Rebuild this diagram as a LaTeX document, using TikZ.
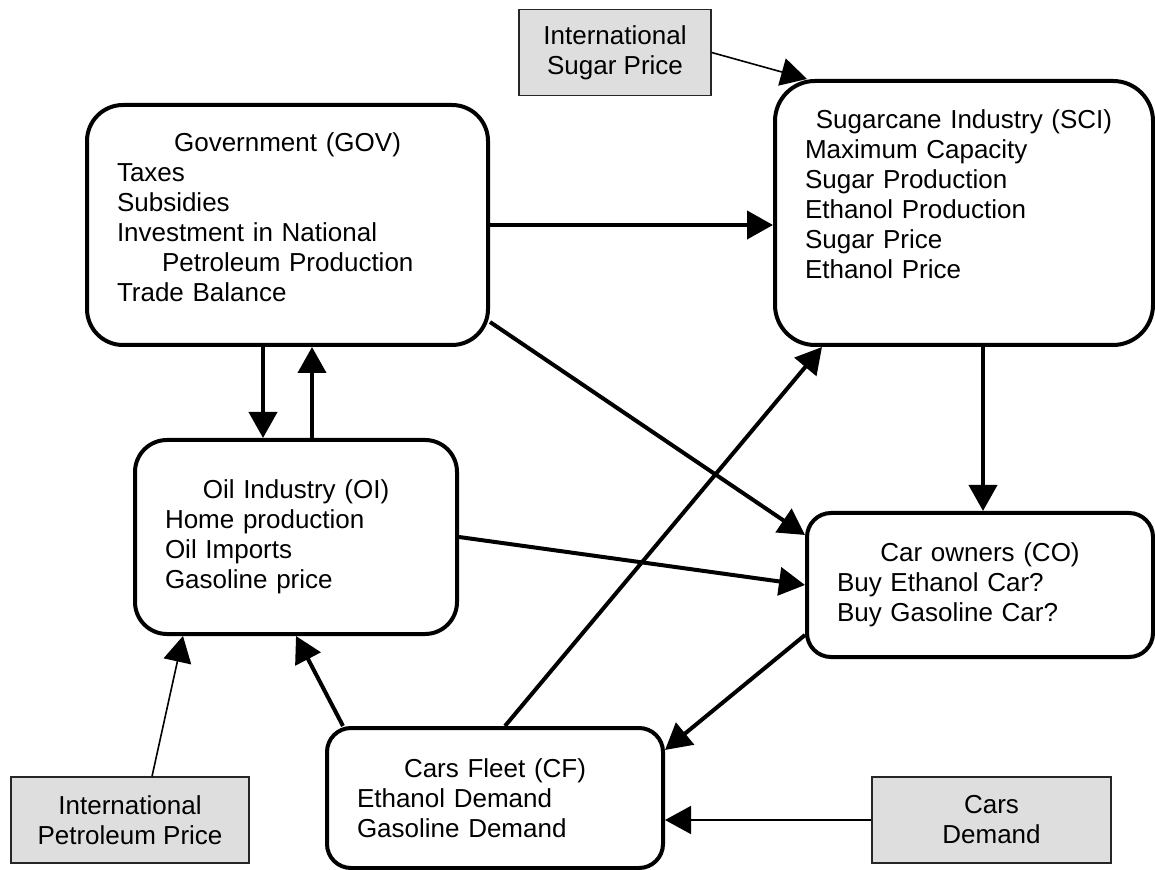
\documentclass[tikz,border=0pt]{standalone}
\usepackage{fontspec}
\setmainfont{Liberation Sans}
\usetikzlibrary{arrows.meta}
\tikzset{
  agent/.style={draw, line width=2pt, align=left, inner xsep=15pt, inner ysep=0pt,
    font=\fontsize{13pt}{15pt}\selectfont},
  extvar/.style={draw=black!85, line width=0.6pt, fill=black!13, align=center,
    minimum height=43pt, font=\fontsize{13pt}{15pt}\selectfont},
  flow/.style={->, line width=2pt},
  feed/.style={->, line width=0.8pt},
}
\newcommand{\ttl}[1]{\makebox[\linewidth]{#1}\\}
\begin{document}
\begin{tikzpicture}[x=0.5pt, y=-0.5pt, >={Triangle[length=13pt, width=14pt]}]
  \useasboundingbox (0,0) rectangle (1155,870);

  % Agents
  \node[agent, text width=170.5pt, minimum height=120pt, rounded corners=18pt] (gov) at (287.5,225)
    {\ttl{Government (GOV)}Taxes\\Subsidies\\Investment in National\\\hspace*{22.5pt}Petroleum Production\\Trade Balance\rule[-7.5pt]{0pt}{7.5pt}};
  \node[agent, text width=159pt, minimum height=132pt, rounded corners=20pt] (sci) at (964,213)
    {\ttl{Sugarcane Industry (SCI)}Maximum Capacity\\Sugar Production\\Ethanol Production\\Sugar Price\\Ethanol Price\rule[-18.5pt]{0pt}{18.5pt}};
  \node[agent, text width=131pt, minimum height=97pt, rounded corners=16pt] (oi) at (296,537)
    {\ttl{Oil Industry (OI)}Home production\\Oil Imports\\Gasoline price};
  \node[agent, text width=143pt, minimum height=72pt, rounded corners=12pt] (co) at (980,585)
    {\ttl{Car owners (CO)}Buy Ethanol Car?\\Buy Gasoline Car?};
  \node[agent, text width=138pt, minimum height=70pt, rounded corners=12pt] (cf) at (495,798)
    {\ttl{Cars Fleet (CF)}Ethanol Demand\\Gasoline Demand};

  % External variables
  \node[extvar, minimum width=96pt] (isp) at (615,52.5) {International\\Sugar Price};
  \node[extvar, minimum width=119pt] (ipp) at (130,820) {International\\Petroleum Price};
  \node[extvar, minimum width=119.5pt] (cdem) at (991.5,820) {Cars\\Demand};

  % Influences
  \draw[flow] (gov.east) -- (gov.east -| sci.west);
  \draw[flow] ([xshift=-12.25pt]gov.south) -- ([xshift=-12.25pt]gov.south |- oi.north);
  \draw[flow] ([xshift=12.25pt]gov.south |- oi.north) -- ([xshift=12.25pt]gov.south);
  \draw[flow] ([xshift=9.5pt]sci.south) -- ([xshift=9.5pt]sci.south |- co.north);
  \draw[flow] ([yshift=-48.5pt]gov.east) -- ([yshift=25pt]co.west);
  \draw[flow] (oi.east) -- (co.west);
  \draw[flow] ([xshift=5pt]cf.north) -- ([xshift=-71pt]sci.south);
  \draw[flow] ([yshift=-25pt]co.west) -- ([yshift=24pt]cf.east);
  \draw[flow] ([xshift=-76pt]cf.north) -- (oi.south);

  % External inputs
  \draw[feed] (isp.east) -- ([xshift=-78.5pt]sci.north);
  \draw[feed] ([xshift=11pt]ipp.north) -- ([xshift=-56.5pt]oi.south);
  \draw[feed] (cdem.west) -- (cdem.west -| cf.east);
\end{tikzpicture}
\end{document}
